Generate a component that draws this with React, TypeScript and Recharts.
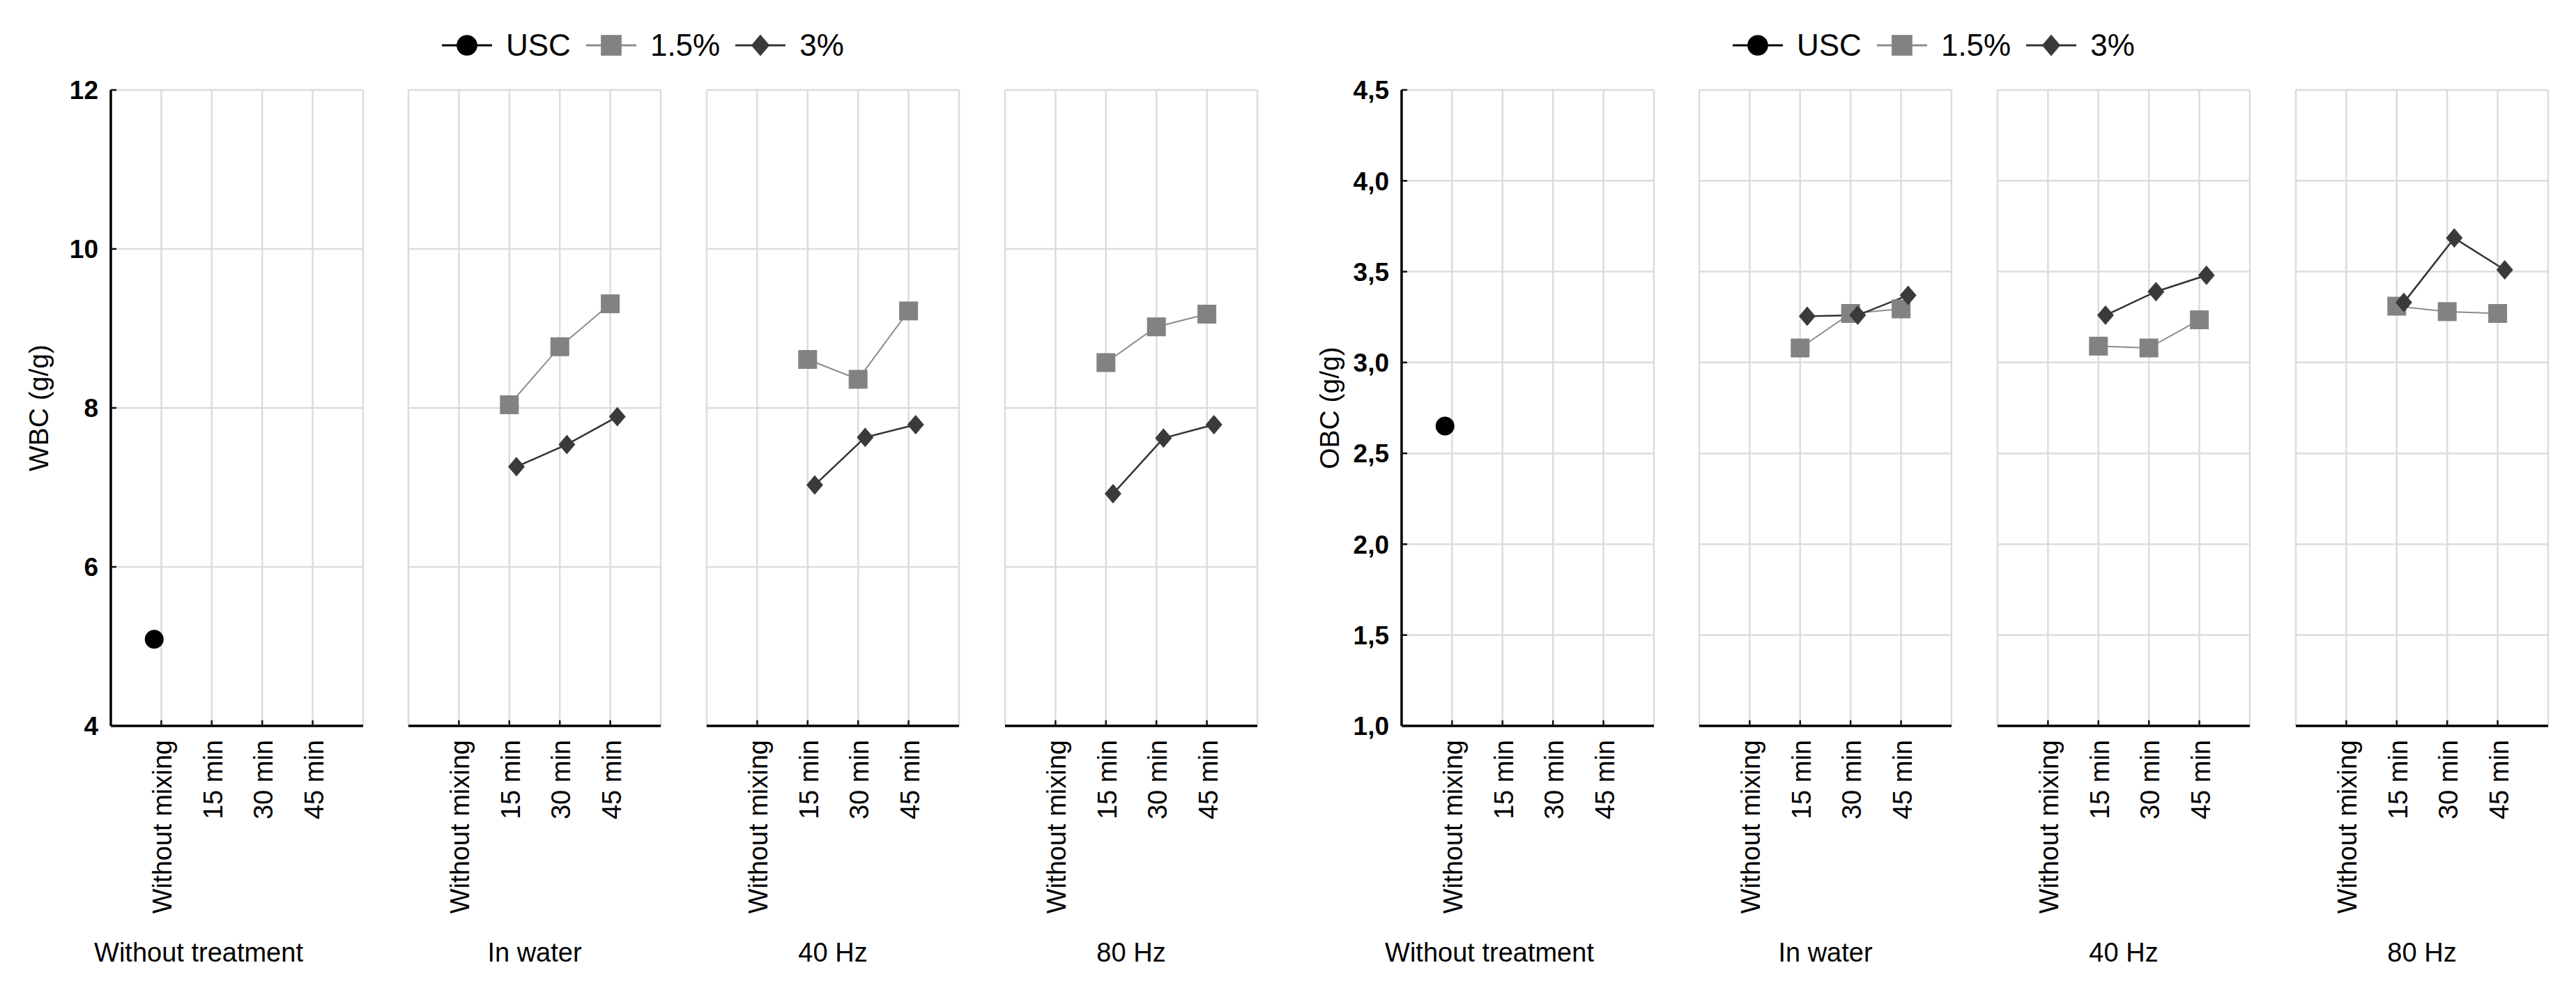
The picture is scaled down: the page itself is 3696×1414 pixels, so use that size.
import React from "react";
import { LineChart, Line, XAxis, YAxis, CartesianGrid } from "recharts";

const groups = ["Without treatment", "In water", "40 Hz", "80 Hz"];
const times = ["Without mixing", "15 min", "30 min", "45 min"];
const seriesNames = ["USC", "1.5%", "3%"];

// rows = groups, columns = times
const wbcUsc = [
  [5.09, null, null, null],
  [null, null, null, null],
  [null, null, null, null],
  [null, null, null, null],
];
const wbc15 = [
  [null, null, null, null],
  [null, 8.04, 8.77, 9.31],
  [null, 8.61, 8.36, 9.22],
  [null, 8.57, 9.02, 9.18],
];
const wbc3 = [
  [null, null, null, null],
  [null, 7.26, 7.54, 7.89],
  [null, 7.03, 7.63, 7.79],
  [null, 6.92, 7.62, 7.79],
];

const obcUsc = [
  [2.65, null, null, null],
  [null, null, null, null],
  [null, null, null, null],
  [null, null, null, null],
];
const obc15 = [
  [null, null, null, null],
  [null, 3.08, 3.27, 3.295],
  [null, 3.09, 3.08, 3.235],
  [null, 3.31, 3.28, 3.27],
];
const obc3 = [
  [null, null, null, null],
  [null, 3.255, 3.26, 3.37],
  [null, 3.26, 3.39, 3.48],
  [null, 3.33, 3.685, 3.51],
];

const wbcTicks = [4, 6, 8, 10, 12];
const obcTicks = [1, 1.5, 2, 2.5, 3, 3.5, 4, 4.5];

const FONT = "'Liberation Sans', Arial, sans-serif";
const PANEL_X = [0, 427, 855, 1283];
const PANEL_W = 362;
const CHART_H = 1414;
const PLOT_TOP = 129;
const AXIS_BAND = 159;
const PAD = 4;
const TICK = 8;
const frame = { stroke: "#000", strokeWidth: 3.5 };

const seriesStyle = [
  { fill: "#000", stroke: "#000", width: 3, shape: "circle", dodge: -0.14 },
  { fill: "#828282", stroke: "#8c8c8c", width: 2, shape: "square", dodge: 0 },
  { fill: "#3a3a3a", stroke: "#333", width: 2.5, shape: "diamond", dodge: 0.14 },
];

function Marker({ shape, cx, cy, fill, big }: any) {
  const s = big ? 1.1 : 1;
  if (shape === "circle") return <circle cx={cx} cy={cy} r={13.5 * s} fill={fill} />;
  if (shape === "square")
    return <rect x={cx - 13.5 * s} y={cy - 13.5 * s} width={27 * s} height={27 * s} fill={fill} />;
  const w = 12 * s;
  const h = 14 * s;
  return <polygon points={`${cx},${cy - h} ${cx + w},${cy} ${cx},${cy + h} ${cx - w},${cy}`} fill={fill} />;
}

function LegendBox({ left }: { left: number }) {
  return (
    <div
      style={{
        position: "absolute",
        left,
        top: 40,
        height: 50,
        display: "flex",
        alignItems: "center",
        fontFamily: FONT,
        fontSize: 44,
        whiteSpace: "nowrap",
      }}
    >
      {seriesNames.map((name, i) => {
        const st = seriesStyle[i];
        return (
          <React.Fragment key={name}>
            <svg width={72} height={40} style={{ display: "block" }}>
              <line x1={0} x2={72} y1={20} y2={20} stroke={st.stroke} strokeWidth={3} />
              <Marker shape={st.shape} cx={36} cy={20} fill={st.fill} big />
            </svg>
            <span style={{ lineHeight: "50px", marginLeft: 20, marginRight: 22 }}>{name}</span>
          </React.Fragment>
        );
      })}
    </div>
  );
}

function Facets({ base, title, domain, ticks, rightCount, fmt, values }: any) {
  const rightTicks = Array.from({ length: rightCount - 1 }, (_, k) => k + 1);
  return (
    <>
      <LegendBox left={base + 475} />
      {groups.map((group, gi) => {
        const first = gi === 0;
        const axisW = first ? AXIS_BAND : 0;
        const plotLeft = PAD + axisW;
        const chartLeft = base + PANEL_X[gi] - plotLeft;
        const labelX = plotLeft + (first ? 126 : PANEL_W / 2);
        return (
          <div key={group} style={{ position: "absolute", left: chartLeft, top: 0 }}>
            <LineChart
              width={plotLeft + PANEL_W + PAD}
              height={CHART_H}
              margin={{ top: PLOT_TOP, right: PAD, bottom: 0, left: PAD }}
            >
              <CartesianGrid xAxisId="b" yAxisId="l" stroke="#dcdcdc" strokeWidth={2.5} />
              <XAxis
                xAxisId="b"
                type="number"
                dataKey="x"
                domain={[-1, 4]}
                ticks={[0, 1, 2, 3]}
                interval={0}
                allowDataOverflow
                height={CHART_H - 1041}
                tickSize={0}
                tickMargin={0}
                tickLine={false}
                axisLine={frame}
                tick={(p: any) => (
                  <g>
                    <line x1={p.x} x2={p.x} y1={p.y} y2={p.y - TICK} stroke="#111" strokeWidth={2.5} />
                    <text
                      transform={`translate(${p.x + 15},${p.y + 20}) rotate(-90)`}
                      textAnchor="end"
                      fontFamily={FONT}
                      fontSize={38}
                      fill="#000"
                    >
                      {times[p.payload.value]}
                    </text>
                  </g>
                )}
                label={{
                  content: () => (
                    <text x={labelX} y={1379} textAnchor="middle" fontFamily={FONT} fontSize={38} fill="#000">
                      {group}
                    </text>
                  ),
                }}
              />
              <XAxis
                xAxisId="t"
                orientation="top"
                type="number"
                dataKey="x"
                domain={[-1, 4]}
                ticks={[0, 1, 2, 3]}
                interval={0}
                allowDataOverflow
                height={0}
                tickSize={0}
                tickMargin={0}
                tickLine={false}
                axisLine={frame}
                tick={(p: any) => (
                  <line x1={p.x} x2={p.x} y1={p.y} y2={p.y + TICK} stroke="#111" strokeWidth={2.5} />
                )}
              />
              <YAxis
                yAxisId="l"
                type="number"
                domain={domain}
                ticks={ticks}
                interval={0}
                allowDataOverflow
                width={axisW}
                tickSize={0}
                tickMargin={0}
                tickLine={false}
                axisLine={frame}
                tick={(p: any) => (
                  <g>
                    <line x1={p.x} x2={p.x + TICK} y1={p.y} y2={p.y} stroke="#111" strokeWidth={2.5} />
                    {first && (
                      <text
                        x={p.x - 18}
                        y={p.y}
                        dy="0.36em"
                        textAnchor="end"
                        fontFamily={FONT}
                        fontWeight="bold"
                        fontSize={37}
                        fill="#000"
                      >
                        {fmt(p.payload.value)}
                      </text>
                    )}
                  </g>
                )}
                label={
                  first
                    ? {
                        content: () => (
                          <text
                            transform={`translate(${plotLeft - 90},${(PLOT_TOP + 1041) / 2}) rotate(-90)`}
                            textAnchor="middle"
                            fontFamily={FONT}
                            fontSize={39}
                            fill="#000"
                          >
                            {title}
                          </text>
                        ),
                      }
                    : undefined
                }
              />
              <YAxis
                yAxisId="r"
                orientation="right"
                type="number"
                domain={[0, rightCount]}
                ticks={rightTicks}
                interval={0}
                width={0}
                tickSize={0}
                tickMargin={0}
                tickLine={false}
                axisLine={frame}
                tick={(p: any) => (
                  <line x1={p.x} x2={p.x - TICK} y1={p.y} y2={p.y} stroke="#111" strokeWidth={2.5} />
                )}
              />
              {seriesNames.map((name, si) => {
                const st = seriesStyle[si];
                const pts = values[si][gi]
                  .map((v: number | null, ti: number) => (v == null ? null : { x: ti + st.dodge, y: v }))
                  .filter(Boolean);
                return (
                  <Line
                    key={name}
                    name={name}
                    xAxisId="b"
                    yAxisId="l"
                    data={pts}
                    dataKey="y"
                    stroke={st.stroke}
                    strokeWidth={st.width}
                    dot={(p: any) => (
                      <Marker key={`${name}-${p.index}`} shape={st.shape} cx={p.cx} cy={p.cy} fill={st.fill} />
                    )}
                    activeDot={false}
                    legendType="none"
                    isAnimationActive={false}
                  />
                );
              })}
            </LineChart>
          </div>
        );
      })}
    </>
  );
}

export default function App() {
  return (
    <div
      style={{
        position: "absolute",
        left: 0,
        top: 0,
        width: 3696,
        height: 1414,
        background: "#fff",
        fontFamily: FONT,
        overflow: "hidden",
      }}
    >
      <Facets
        base={159}
        title="WBC (g/g)"
        domain={[4, 12]}
        ticks={wbcTicks}
        rightCount={7}
        fmt={(v: number) => String(v)}
        values={[wbcUsc, wbc15, wbc3]}
      />
      <Facets
        base={2011}
        title="OBC (g/g)"
        domain={[1, 4.5]}
        ticks={obcTicks}
        rightCount={10}
        fmt={(v: number) => v.toFixed(1).replace(".", ",")}
        values={[obcUsc, obc15, obc3]}
      />
    </div>
  );
}
